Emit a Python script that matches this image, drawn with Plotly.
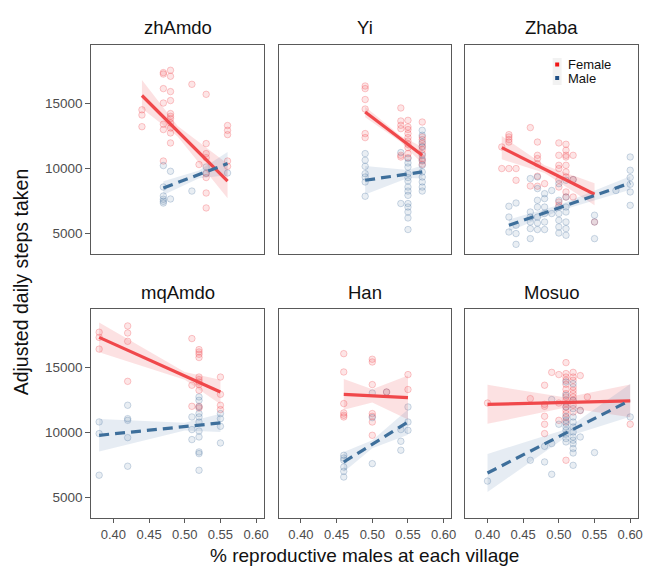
import plotly.graph_objects as go

# ---------------- data ----------------
PANELS = ["zhAmdo", "Yi", "Zhaba", "mqAmdo", "Han", "Mosuo"]
X_TICKS = [0.40, 0.45, 0.50, 0.55, 0.60]
Y_TICKS = [5000, 10000, 15000]

# points: {x position of village: [adjusted steps, ...]}
zhamdo_female = {0.44: [14500, 14100, 13200],
                 0.47: [17360, 17250, 16130, 15020, 13390, 12980, 10560],
                 0.48: [17540, 17080, 15900, 15210, 14210, 14000, 13820, 13490, 13100, 12720, 11950],
                 0.51: [16460], 0.52: [10290],
                 0.53: [15690, 11900, 11130, 10820, 9590, 9290, 8100, 6950],
                 0.56: [13290, 12920, 12590, 10560, 10150]}
zhamdo_male = {0.47: [10210, 8560, 7870, 7620, 7460, 7330], 0.48: [9770, 7640],
               0.51: [8250], 0.53: [10100, 9640], 0.56: [9640]}

yi_female = {0.49: [16330, 16130, 15290, 14560, 12670, 12360],
             0.54: [14640, 13640, 13310, 13050, 11000, 10870],
             0.55: [13690, 13180, 12980, 12670, 12360, 12100, 11850, 11590, 11130, 10820],
             0.57: [13560, 12410, 12210, 11900, 11690, 11440, 11130, 10750, 10560, 10310]}
yi_male = {0.49: [11130, 10620, 10150, 9590, 9330, 8950, 7850],
           0.54: [11210, 7290],
           0.55: [10750, 10410, 10100, 9590, 9290, 9020, 8560, 8250, 7920, 7290, 7020, 6640, 6180, 5290],
           0.57: [12920, 12540, 12020, 11640, 11000, 10620, 10230, 9720, 9330, 8950, 8560, 8250]}

zhaba_female = {0.42: [11640, 9980], 0.43: [12590, 12410, 12210, 12020, 9980], 0.44: [9980, 9080],
                0.46: [13130, 8640], 0.47: [12020, 11000, 10750, 10360, 9390, 8620], 0.48: [8820],
                0.50: [11950, 11000, 10230, 9980, 9080, 8560, 7410, 7150],
                0.51: [11850, 11390, 11000, 10870, 10230, 9720, 9330, 8180, 7790],
                0.52: [11000, 9130, 7790], 0.55: [5870]}
zhaba_male = {0.43: [7080, 6250, 5100], 0.44: [7330, 5620, 4980, 4150],
              0.46: [9210, 6640, 6250, 5870, 5360, 4590],
              0.47: [9330, 8440, 7540, 7020, 6250, 5790, 5290],
              0.48: [8050, 7670, 7020, 6520, 5870, 5290], 0.49: [8290, 6520],
              0.50: [8820, 7540, 7020, 6520, 6000, 5490, 5020],
              0.51: [9080, 7790, 7020, 6640, 5870, 5360, 4850], 0.52: [9130],
              0.55: [6390, 5870, 4590], 0.58: [8290],
              0.60: [10870, 9850, 9290, 8770, 8180, 7150]}

mqamdo_female = {0.38: [17700, 17300, 16400], 0.42: [18180, 17640, 17000, 13920],
                 0.51: [17210, 13620, 12000],
                 0.52: [16360, 16180, 16000, 15750, 14250, 14050, 13870, 13690, 13230, 12000, 11870],
                 0.55: [14250, 12920, 12080, 11750]}
mqamdo_male = {0.38: [10800, 9900, 6700], 0.42: [12080, 11050, 10920, 9590, 7390],
               0.51: [11180, 10210, 9440],
               0.52: [12720, 12460, 11950, 11440, 11180, 10790, 10100, 9640, 8490, 8360, 7080],
               0.55: [11440, 11050, 10460, 9180]}

han_female = {0.46: [16050, 14640, 12210, 11490, 11310, 11180],
              0.50: [15620, 15410, 13670, 11440, 11230, 10790, 9770],
              0.52: [13100], 0.55: [14440, 13290]}
han_male = {0.46: [8230, 8020, 7850, 7330, 7000, 6560], 0.50: [13020, 11130, 7590],
            0.52: [13100], 0.54: [10210, 9310, 8620], 0.55: [11950, 10790, 10150]}

mosuo_female = {0.40: [12250], 0.46: [12590], 0.48: [13620, 12150, 12000, 11230, 10620, 9900],
                0.49: [14610], 0.50: [14440, 12250, 10920],
                0.51: [15360, 14520, 14250, 14000, 13690, 13310, 12980, 12720, 12460, 12210,
                       11950, 11690, 11440, 11130, 10790, 7850],
                0.52: [14610, 14250, 14000, 13490, 13230, 12980, 12720, 12460, 12080, 11560],
                0.53: [14360, 11670], 0.54: [12720], 0.60: [10620]}
mosuo_male = {0.40: [6250], 0.46: [7850], 0.48: [8920, 7720], 0.49: [12520, 9130, 6770],
              0.50: [10620],
              0.51: [13870, 12850, 11950, 11230, 10920, 10670, 10410, 10150, 9850, 9520, 9260],
              0.52: [13740, 12460, 11820, 11180, 10790, 10410, 10020, 9640, 9390, 9130, 8750, 8410, 7460],
              0.53: [11690, 9640], 0.55: [8440], 0.60: [11180]}

# fitted lines with confidence band: x, fit, lower, upper
zhamdo_f_fit = dict(x=[0.44, 0.49, 0.56], fit=[15600, 12860, 9020], lo=[14600, 12450, 7700], hi=[16800, 13250, 10350])
zhamdo_m_fit = dict(x=[0.47, 0.52, 0.56], fit=[8485, 9530, 10360], lo=[7950, 9230, 9460], hi=[9000, 9830, 11260])
yi_f_fit = dict(x=[0.49, 0.54, 0.57], fit=[14330, 12250, 11000], lo=[13930, 12020, 10360], hi=[14730, 12480, 11640])
yi_m_fit = dict(x=[0.49, 0.55, 0.57], fit=[9080, 9560, 9720], lo=[7980, 9260, 9220], hi=[10180, 9860, 10220])
zhaba_f_fit = dict(x=[0.42, 0.48, 0.55], fit=[11590, 9930, 8000], lo=[10690, 9630, 7150], hi=[12490, 10230, 8850])
zhaba_m_fit = dict(x=[0.43, 0.50, 0.60], fit=[5615, 6955, 8870], lo=[5165, 6725, 8350], hi=[6065, 7185, 9390])
mqamdo_f_fit = dict(x=[0.38, 0.50, 0.55], fit=[17300, 14335, 13100], lo=[16150, 14035, 12150], hi=[18450, 14635, 14050])
mqamdo_m_fit = dict(x=[0.38, 0.50, 0.55], fit=[9770, 10440, 10720], lo=[8520, 10140, 10020], hi=[11020, 10740, 11420])
han_f_fit = dict(x=[0.46, 0.50, 0.55], fit=[12920, 12810, 12670], lo=[11740, 12300, 10980], hi=[14100, 13320, 14360])
han_m_fit = dict(x=[0.46, 0.50, 0.55], fit=[7715, 9080, 10790], lo=[6945, 8780, 9820], hi=[8485, 9380, 11760])
mosuo_f_fit = dict(x=[0.40, 0.51, 0.60], fit=[12150, 12290, 12410], lo=[10650, 11910, 11150], hi=[13650, 12670, 13670])
mosuo_m_fit = dict(x=[0.40, 0.51, 0.60], fit=[6870, 9940, 12460], lo=[5400, 9640, 11200], hi=[8340, 10240, 13720])

FEMALE_PTS = [zhamdo_female, yi_female, zhaba_female, mqamdo_female, han_female, mosuo_female]
MALE_PTS = [zhamdo_male, yi_male, zhaba_male, mqamdo_male, han_male, mosuo_male]
FEMALE_FIT = [zhamdo_f_fit, yi_f_fit, zhaba_f_fit, mqamdo_f_fit, han_f_fit, mosuo_f_fit]
MALE_FIT = [zhamdo_m_fit, yi_m_fit, zhaba_m_fit, mqamdo_m_fit, han_m_fit, mosuo_m_fit]

# ---------------- layout geometry / styles ----------------
W, H = 649, 569
X_PX = [(92, 266), (281, 455), (469, 643)]
Y_PX = [(45, 254), (309, 518)]
X_RANGE = [0.369, 0.611]
Y_RANGE = [3408, 19485]

RED_LINE = "#F0484B"
BLUE_LINE = "#3E6F9B"
RED_PT_FILL = "rgba(240,70,75,0.14)"
RED_PT_EDGE = "rgba(240,70,75,0.28)"
BLUE_PT_FILL = "rgba(70,112,160,0.12)"
BLUE_PT_EDGE = "rgba(70,112,160,0.26)"
RED_BAND = "rgba(240,90,95,0.18)"
BLUE_BAND = "rgba(90,128,175,0.15)"
FRAME = "#595959"
FONT = "Liberation Sans, Arial, sans-serif"


def flat(d):
    xs, ys = [], []
    for k, v in d.items():
        xs += [k] * len(v)
        ys += v
    return xs, ys


fig = go.Figure()
for i in range(6):
    n = "" if i == 0 else str(i + 1)
    xa, ya = "x" + n, "y" + n
    for pts, fill, edge in [(FEMALE_PTS[i], RED_PT_FILL, RED_PT_EDGE),
                            (MALE_PTS[i], BLUE_PT_FILL, BLUE_PT_EDGE)]:
        xs, ys = flat(pts)
        fig.add_trace(go.Scatter(x=xs, y=ys, mode="markers", xaxis=xa, yaxis=ya,
                                 marker=dict(size=6.5, color=fill, line=dict(color=edge, width=1)),
                                 showlegend=False, hoverinfo="skip"))
    for fit, band in [(FEMALE_FIT[i], RED_BAND), (MALE_FIT[i], BLUE_BAND)]:
        fig.add_trace(go.Scatter(x=fit["x"] + fit["x"][::-1], y=fit["hi"] + fit["lo"][::-1],
                                 fill="toself", fillcolor=band, line=dict(width=0),
                                 mode="lines", xaxis=xa, yaxis=ya, showlegend=False, hoverinfo="skip"))
    for fit, col, dash in [(FEMALE_FIT[i], RED_LINE, "solid"), (MALE_FIT[i], BLUE_LINE, "10px,6px")]:
        fig.add_trace(go.Scatter(x=[fit["x"][0], fit["x"][-1]], y=[fit["fit"][0], fit["fit"][-1]],
                                 mode="lines", line=dict(color=col, width=3.2, dash=dash),
                                 xaxis=xa, yaxis=ya, showlegend=False, hoverinfo="skip"))

layout = dict(width=W, height=H, margin=dict(l=0, r=0, t=0, b=0),
              paper_bgcolor="white", plot_bgcolor="white", showlegend=False,
              font=dict(family=FONT, color="#4D4D4D"))
annotations = []
for i in range(6):
    r, c = divmod(i, 3)
    n = "" if i == 0 else str(i + 1)
    x0, x1 = X_PX[c]
    y0, y1 = Y_PX[r]
    bottom, left = (r == 1), (c == 0)
    layout["xaxis" + n] = dict(domain=[x0 / W, x1 / W], range=X_RANGE, anchor="y" + n,
                               showline=True, mirror=True, linecolor=FRAME, linewidth=1.3,
                               showgrid=False, zeroline=False,
                               tickvals=X_TICKS, tickformat=".2f",
                               ticks="outside" if bottom else "", ticklen=4, tickwidth=1.3,
                               tickcolor=FRAME, showticklabels=bottom,
                               tickfont=dict(size=13, color="#4D4D4D", family=FONT))
    layout["yaxis" + n] = dict(domain=[1 - y1 / H, 1 - y0 / H], range=Y_RANGE, anchor="x" + n,
                               showline=True, mirror=True, linecolor=FRAME, linewidth=1.3,
                               showgrid=False, zeroline=False,
                               tickvals=Y_TICKS, tickformat="d",
                               ticks="outside" if left else "", ticklen=5, tickwidth=1.3,
                               tickcolor=FRAME, showticklabels=left,
                               tickfont=dict(size=13.5, color="#4D4D4D", family=FONT))
    annotations.append(dict(text=PANELS[i], xref="paper", yref="paper",
                            x=(x0 + x1) / 2 / W, y=1 - (y0 - 17) / H, showarrow=False,
                            xanchor="center", yanchor="middle",
                            font=dict(size=18.5, color="#111111", family=FONT)))

annotations.append(dict(text="% reproductive males at each village", xref="paper", yref="paper",
                        x=(92 + 643) / 2 / W, y=1 - 555 / H, showarrow=False,
                        xanchor="center", yanchor="middle",
                        font=dict(size=19, color="#111111", family=FONT)))
annotations.append(dict(text="Adjusted daily steps taken", xref="paper", yref="paper",
                        x=22 / W, y=1 - 281.5 / H, showarrow=False, textangle=-90,
                        xanchor="center", yanchor="middle",
                        font=dict(size=19.5, color="#111111", family=FONT)))
# legend (inside Zhaba panel)
for lab, yy in [("Female", 64.5), ("Male", 78)]:
    annotations.append(dict(text=lab, xref="paper", yref="paper", x=570 / W, y=1 - yy / H,
                            showarrow=False, xanchor="left", yanchor="middle",
                            font=dict(size=13, color="#111111", family=FONT)))
shapes = [dict(type="rect", xref="paper", yref="paper", x0=557 / W, x1=566 / W,
               y0=1 - 85 / H, y1=1 - 58 / H, fillcolor="#F2F2F2", line=dict(width=0), layer="above")]
for col, yy in [("#F01515", 64.5), ("#1F4F85", 78)]:
    shapes.append(dict(type="rect", xref="paper", yref="paper", x0=559.5 / W, x1=563.5 / W,
                       y0=1 - (yy + 2) / H, y1=1 - (yy - 2) / H, fillcolor=col,
                       line=dict(width=0), layer="above"))
layout["annotations"] = annotations
layout["shapes"] = shapes
fig.update_layout(**layout)
fig.write_html("out.html", config={"displayModeBar": False},
               post_script="document.body.style.margin='0';document.body.style.overflow='hidden';")
